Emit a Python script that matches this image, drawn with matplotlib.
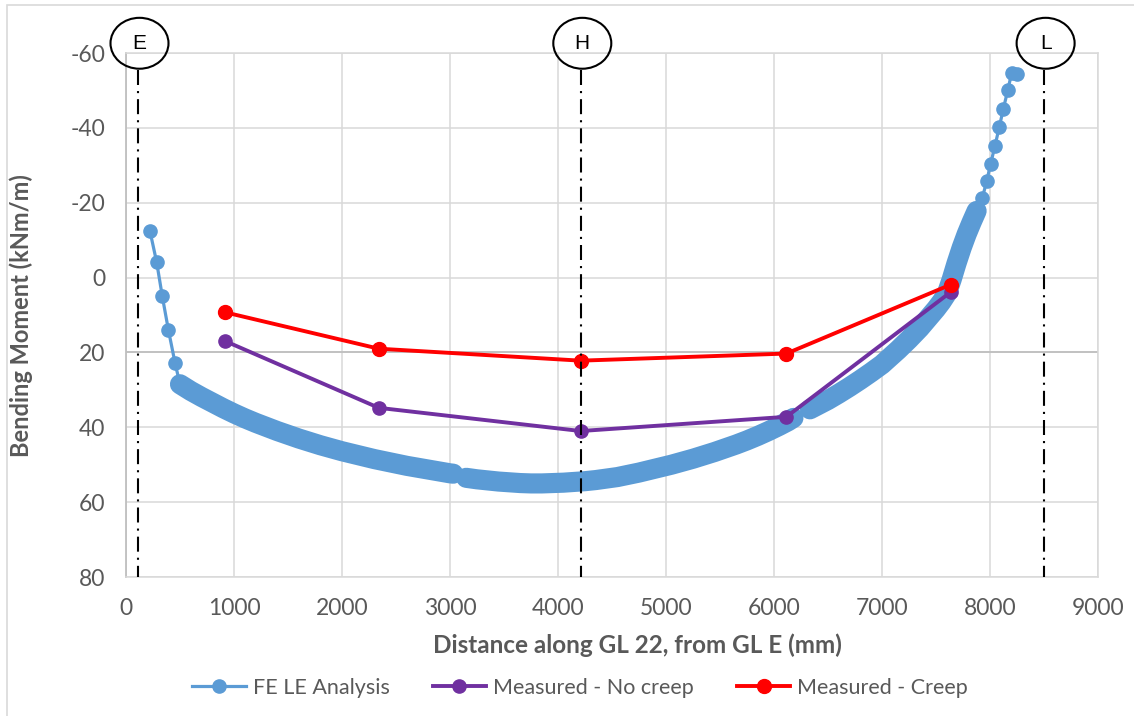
import matplotlib
matplotlib.use("Agg")
import matplotlib.pyplot as plt
from matplotlib.patches import Ellipse, Rectangle

# ---------------- data ----------------
fe_x = [222, 284, 336, 392, 454, 500,
        600, 700, 800, 900, 1000, 1100, 1200, 1300, 1400, 1500, 1600, 1700,
        1800, 1900, 2000, 2100, 2200, 2300, 2400, 2500, 2600, 2700, 2800,
        2900, 3000, 3030,
        3150, 3250, 3350, 3450, 3550, 3650, 3750, 3850, 3950, 4050, 4150,
        4250, 4350, 4450, 4550, 4650, 4750, 4850, 4950, 5050, 5150, 5250,
        5350, 5450, 5550, 5650, 5750, 5850, 5950, 6050, 6130, 6180,
        6333, 6400, 6500, 6600, 6700, 6800, 6900, 7000, 7050, 7100, 7150,
        7200, 7250, 7300, 7350, 7400, 7450, 7500, 7550, 7600, 7645,
        7690, 7738, 7784, 7830, 7876, 7929, 7969, 8006, 8046, 8086, 8123,
        8164, 8201, 8250]
fe_y = [-12.4, -4.1, 5.0, 13.9, 22.8, 28.5,
        30.3, 31.9, 33.4, 34.9, 36.3, 37.6, 38.8, 39.9, 41.0, 42.0, 43.0, 43.9,
        44.8, 45.6, 46.4, 47.1, 47.8, 48.5, 49.1, 49.7, 50.3, 50.8, 51.3,
        51.8, 52.3, 52.4,
        53.5, 53.9, 54.2, 54.5, 54.7, 54.9, 55.0, 55.0, 54.9, 54.8, 54.6,
        54.4, 54.1, 53.7, 53.3, 52.7, 52.1, 51.4, 50.7, 50.0, 49.2, 48.4,
        47.5, 46.6, 45.6, 44.6, 43.5, 42.3, 41.0, 39.6, 38.4, 37.5,
        35.2, 34.2, 32.7, 31.0, 29.2, 27.3, 25.3, 23.2, 21.9, 20.6, 19.3,
        17.9, 16.5, 15.0, 13.5, 11.8, 10.1, 8.4, 6.5, 4.3, 0.5,
        -3.8, -8.0, -11.6, -14.8, -17.8, -21.3, -25.7, -30.4, -35.2, -40.2, -45.0,
        -50.0, -54.7, -54.3]
# index ranges of the densely sampled FE stretches (drawn as a thick band)
fe_dense = [(5, 32), (32, 64), (64, 90)]

meas_x = [920, 2340, 4210, 6115, 7635]
nocreep_y = [17.0, 34.8, 41.0, 37.2, 3.9]
creep_y = [9.3, 19.0, 22.2, 20.3, 1.9]

grid_lines = ["E", "H", "L"]
grid_x = [110, 4210, 8500]

x_ticks = [0, 1000, 2000, 3000, 4000, 5000, 6000, 7000, 8000, 9000]
y_ticks = [-60, -40, -20, 0, 20, 40, 60, 80]

# ---------------- figure ----------------
plt.rcParams['axes.unicode_minus'] = False
plt.rcParams['font.family'] = ['Lato', 'DejaVu Sans']
W, H = 1134, 716
fig = plt.figure(figsize=(W / 100, H / 100), dpi=100)

ax = fig.add_axes([126 / W, 1 - 577 / H, (1098 - 126) / W, (577 - 53) / H])

# chart-area border
fig.patches.append(Rectangle((7 / W, -0.1), 1.2, (1 - 5 / H) + 0.1,
                             transform=fig.transFigure, fill=False,
                             edgecolor='#d9d9d9', linewidth=1.2))

ax.set_xlim(0, 9000)
ax.set_ylim(80, -60)
ax.set_xticks(x_ticks)
ax.set_yticks(y_ticks)
ax.grid(True, color='#d9d9d9', linewidth=1.1)
ax.set_axisbelow(True)
ax.tick_params(length=0, labelsize=16.5, colors='#595959', pad=15)
for s in ['top', 'right', 'bottom']:
    ax.spines[s].set_color('#d9d9d9')
    ax.spines[s].set_linewidth(1.1)
ax.spines['left'].set_color('#bfbfbf')
ax.spines['left'].set_linewidth(1.3)
ax.axhline(20, color='#bfbfbf', linewidth=1.3, zorder=1)

fe_col = '#5B9BD5'
pur = '#7030A0'
red = '#FF0000'

ax.plot(fe_x, fe_y, color=fe_col, lw=2.3, marker='o', ms=9.5,
        label='FE LE Analysis', zorder=3)
for a, b in fe_dense:
    ax.plot(fe_x[a:b], fe_y[a:b], color=fe_col, lw=14.5,
            solid_capstyle='round', solid_joinstyle='round', zorder=3)
ax.plot(meas_x, nocreep_y, color=pur, lw=2.8, marker='o', ms=9.5,
        label='Measured - No creep', zorder=4)
ax.plot(meas_x, creep_y, color=red, lw=2.8, marker='o', ms=10,
        label='Measured - Creep', zorder=5)

for name, gx in zip(grid_lines, grid_x):
    ax.plot([gx, gx], [-55.5, 80], color='black', lw=1.5,
            linestyle=(0, (7.2, 2.9, 1.0, 2.9)), zorder=6, clip_on=False)
    ax.add_patch(Ellipse((gx + 15, -62.6), 537, 13.6, fill=False,
                         edgecolor='black', lw=1.5, clip_on=False, zorder=7))
    ax.text(gx + 15, -62.6, name, ha='center', va='center', fontsize=15,
            family='Liberation Sans', color='black', zorder=8, clip_on=False)

fig.text(637 / W, 1 - 645 / H, 'Distance along GL 22, from GL E (mm)',
         ha='center', va='center', fontsize=17.5, fontweight='bold',
         color='#595959')
fig.text(21 / W, 1 - 316 / H, 'Bending Moment (kNm/m)', rotation=90,
         ha='center', va='center', fontsize=17, fontweight='bold',
         color='#595959')

leg = fig.legend(loc='center', bbox_to_anchor=(580 / W, 1 - 688 / H), ncol=3,
                 frameon=False, fontsize=15.5, handlelength=2.5,
                 handletextpad=0.3, columnspacing=2.0)
for t in leg.get_texts():
    t.set_color('#595959')

fig.savefig('out.png', dpi=100)
